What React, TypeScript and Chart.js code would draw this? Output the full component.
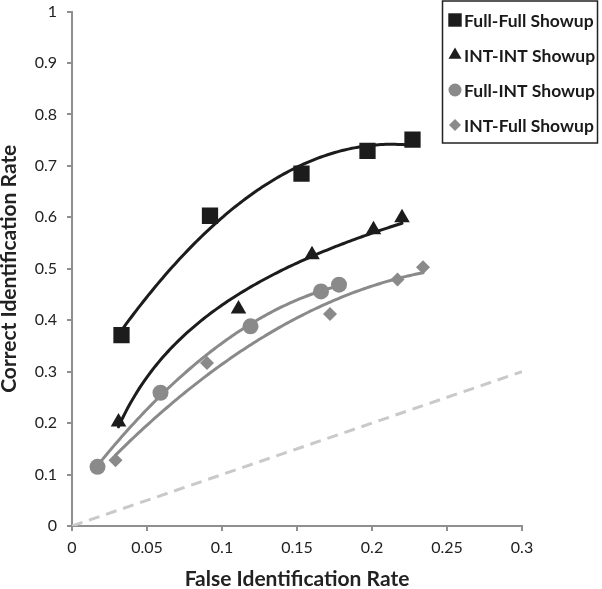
import React, { useEffect, useRef } from 'react';
import { Chart, registerables } from 'chart.js';
import { drawPoint } from 'chart.js/helpers';

Chart.register(...registerables);

const seriesLabels = ['Full-Full Showup', 'INT-INT Showup', 'Full-INT Showup', 'INT-Full Showup'];
// trendline type per series, as in the source chart
const trendTypes = ['poly2', 'log', 'poly2', 'poly2'];

const fullFullX = [0.033, 0.092, 0.153, 0.197, 0.227];
const fullFullY = [0.371, 0.603, 0.685, 0.729, 0.751];

const intIntX = [0.031, 0.111, 0.160, 0.201, 0.220];
const intIntY = [0.202, 0.422, 0.527, 0.576, 0.599];

const fullIntX = [0.017, 0.059, 0.119, 0.166, 0.178];
const fullIntY = [0.115, 0.259, 0.388, 0.456, 0.469];

const intFullX = [0.029, 0.090, 0.172, 0.217, 0.234];
const intFullY = [0.128, 0.317, 0.412, 0.479, 0.503];

const chanceX = [0, 0.3];
const chanceY = [0, 0.3];

const xTitle = 'False Identification Rate';
const yTitle = 'Correct Identification Rate';

const BLACK = '#1c1c1c';
const GREY = '#8a8a8a';
const AXIS = '#8f8f8f';

function pts(xs: number[], ys: number[]) {
  return xs.map((x, i) => ({ x, y: ys[i] }));
}

// least-squares polynomial (order 2) trendline
function quadFit(xs: number[], ys: number[]) {
  let s0 = 0, s1 = 0, s2 = 0, s3 = 0, s4 = 0, t0 = 0, t1 = 0, t2 = 0;
  xs.forEach((x, i) => {
    const y = ys[i];
    s0 += 1; s1 += x; s2 += x * x; s3 += x * x * x; s4 += x * x * x * x;
    t0 += y; t1 += x * y; t2 += x * x * y;
  });
  const M = [
    [s0, s1, s2, t0],
    [s1, s2, s3, t1],
    [s2, s3, s4, t2],
  ];
  for (let i = 0; i < 3; i++) {
    let p = i;
    for (let r = i + 1; r < 3; r++) if (Math.abs(M[r][i]) > Math.abs(M[p][i])) p = r;
    [M[i], M[p]] = [M[p], M[i]];
    for (let r = 0; r < 3; r++) {
      if (r === i) continue;
      const f = M[r][i] / M[i][i];
      for (let c = i; c < 4; c++) M[r][c] -= f * M[i][c];
    }
  }
  const a = M[0][3] / M[0][0], b = M[1][3] / M[1][1], c = M[2][3] / M[2][2];
  return (x: number) => a + b * x + c * x * x;
}

// least-squares logarithmic trendline y = a + b ln x
function logFit(xs: number[], ys: number[]) {
  const lx = xs.map((x) => Math.log(x));
  const n = xs.length;
  const mx = lx.reduce((s, v) => s + v, 0) / n;
  const my = ys.reduce((s, v) => s + v, 0) / n;
  let sxy = 0, sxx = 0;
  lx.forEach((v, i) => {
    sxy += (v - mx) * (ys[i] - my);
    sxx += (v - mx) * (v - mx);
  });
  const b = sxy / sxx;
  const a = my - b * mx;
  return (x: number) => a + b * Math.log(x);
}

const trendPlugin = {
  id: 'trendlines',
  beforeDatasetsDraw(chart: any) {
    const { ctx } = chart;
    const xs = chart.scales.x;
    const ys = chart.scales.y;
    chart.data.datasets.forEach((ds: any) => {
      if (!ds.trendColor) return;
      const dx = ds.data.map((p: any) => p.x);
      const dy = ds.data.map((p: any) => p.y);
      const f = ds.trendType === 'log' ? logFit(dx, dy) : quadFit(dx, dy);
      const x0 = Math.min(...dx);
      const x1 = Math.max(...dx);
      ctx.save();
      ctx.beginPath();
      const n = 120;
      for (let i = 0; i <= n; i++) {
        const xv = x0 + ((x1 - x0) * i) / n;
        const px = xs.getPixelForValue(xv);
        const py = ys.getPixelForValue(f(xv));
        if (i === 0) ctx.moveTo(px, py);
        else ctx.lineTo(px, py);
      }
      ctx.strokeStyle = ds.trendColor;
      ctx.lineWidth = 3;
      ctx.lineJoin = 'round';
      ctx.lineCap = 'round';
      ctx.stroke();
      ctx.restore();
    });
  },
};

const legendPlugin = {
  id: 'boxLegend',
  afterDraw(chart: any) {
    const { ctx } = chart;
    const bx = 442.5, by = 1, bw = 155, bh = 142;
    ctx.save();
    ctx.fillStyle = '#ffffff';
    ctx.fillRect(bx, by, bw, bh);
    ctx.strokeStyle = '#222';
    ctx.lineWidth = 1.5;
    ctx.strokeRect(bx, by, bw, bh);
    const items = chart.data.datasets.filter((d: any) => d.legendSize);
    items.forEach((ds: any, i: number) => {
      const cy = 20 + i * 35;
      ctx.fillStyle = ds.backgroundColor;
      ctx.strokeStyle = ds.backgroundColor;
      drawPoint(ctx, {
        pointStyle: ds.pointStyle,
        radius: ds.legendSize,
        rotation: 0,
        borderWidth: 0,
      } as any, 455, cy);
      ctx.fillStyle = '#1a1a1a';
      ctx.font = 'bold 17.5px Lato';
      ctx.textAlign = 'left';
      ctx.textBaseline = 'middle';
      ctx.fillText(ds.label, 464, cy + 1);
    });
    ctx.restore();
  },
};

const fmt = (v: any) => String(Number(Number(v).toFixed(2)));

export default function App() {
  const ref = useRef<HTMLCanvasElement>(null);
  useEffect(() => {
    document.body.style.margin = '0';
    const canvas = ref.current!;
    const series = [
      { x: fullFullX, y: fullFullY, style: 'rect', r: 11.5, color: BLACK, lg: 9.5 },
      { x: intIntX, y: intIntY, style: 'triangle', r: 9, color: BLACK, lg: 7.5 },
      { x: fullIntX, y: fullIntY, style: 'circle', r: 8, color: GREY, lg: 6.5 },
      { x: intFullX, y: intFullY, style: 'rectRot', r: 7, color: GREY, lg: 6 },
    ];
    const chart = new Chart(canvas, {
      type: 'scatter',
      data: {
        datasets: [
          {
            label: 'chance',
            data: pts(chanceX, chanceY),
            showLine: true,
            borderColor: '#c9c9c9',
            borderWidth: 3,
            borderDash: [11, 7],
            pointRadius: 0,
            order: 10,
          } as any,
          ...series.map((s, i) => ({
            label: seriesLabels[i],
            data: pts(s.x, s.y),
            pointStyle: s.style,
            pointRadius: s.r,
            backgroundColor: s.color,
            borderColor: s.color,
            borderWidth: 0,
            trendColor: s.color,
            trendType: trendTypes[i],
            legendSize: s.lg,
          })),
        ] as any,
      },
      options: {
        responsive: false,
        animation: false,
        devicePixelRatio: 1,
        layout: { padding: { top: 6, right: 80, left: 0, bottom: 0 } },
        plugins: { legend: { display: false }, tooltip: { enabled: false } },
        scales: {
          x: {
            type: 'linear',
            min: 0,
            max: 0.3,
            border: { display: true, color: AXIS, width: 2 },
            grid: { drawOnChartArea: false, drawTicks: true, tickLength: 5, color: AXIS, lineWidth: 2 },
            ticks: {
              stepSize: 0.05,
              callback: fmt,
              color: '#222',
              padding: 7,
              maxRotation: 0,
              font: { family: 'Lato', size: 16 },
            },
            title: {
              display: true,
              text: xTitle,
              color: '#222',
              font: { family: 'Lato', size: 21, weight: 'bold', lineHeight: 1 },
              padding: { top: 0, bottom: -1 },
            },
            afterFit(scale: any) {
              scale.height = 63;
              scale.paddingLeft = 0;
              scale.paddingRight = 0;
            },
          },
          y: {
            type: 'linear',
            min: 0,
            max: 1,
            border: { display: true, color: AXIS, width: 2 },
            grid: { drawOnChartArea: false, drawTicks: true, tickLength: 5, color: AXIS, lineWidth: 2 },
            ticks: {
              stepSize: 0.1,
              callback: fmt,
              color: '#222',
              padding: 10,
              font: { family: 'Lato', size: 16 },
            },
            title: {
              display: true,
              text: yTitle,
              color: '#222',
              font: { family: 'Lato', size: 21, weight: 'bold', lineHeight: 1 },
              padding: { top: -1, bottom: 0 },
            },
            afterFit(scale: any) {
              scale.width = 72;
              scale.paddingTop = 0;
              scale.paddingBottom = 0;
            },
          },
        },
      } as any,
      plugins: [trendPlugin, legendPlugin],
    });
    return () => chart.destroy();
  }, []);
  return (
    <div style={{ width: 602, height: 589 }}>
      <canvas ref={ref} width={602} height={589} style={{ display: 'block' }} />
    </div>
  );
}
